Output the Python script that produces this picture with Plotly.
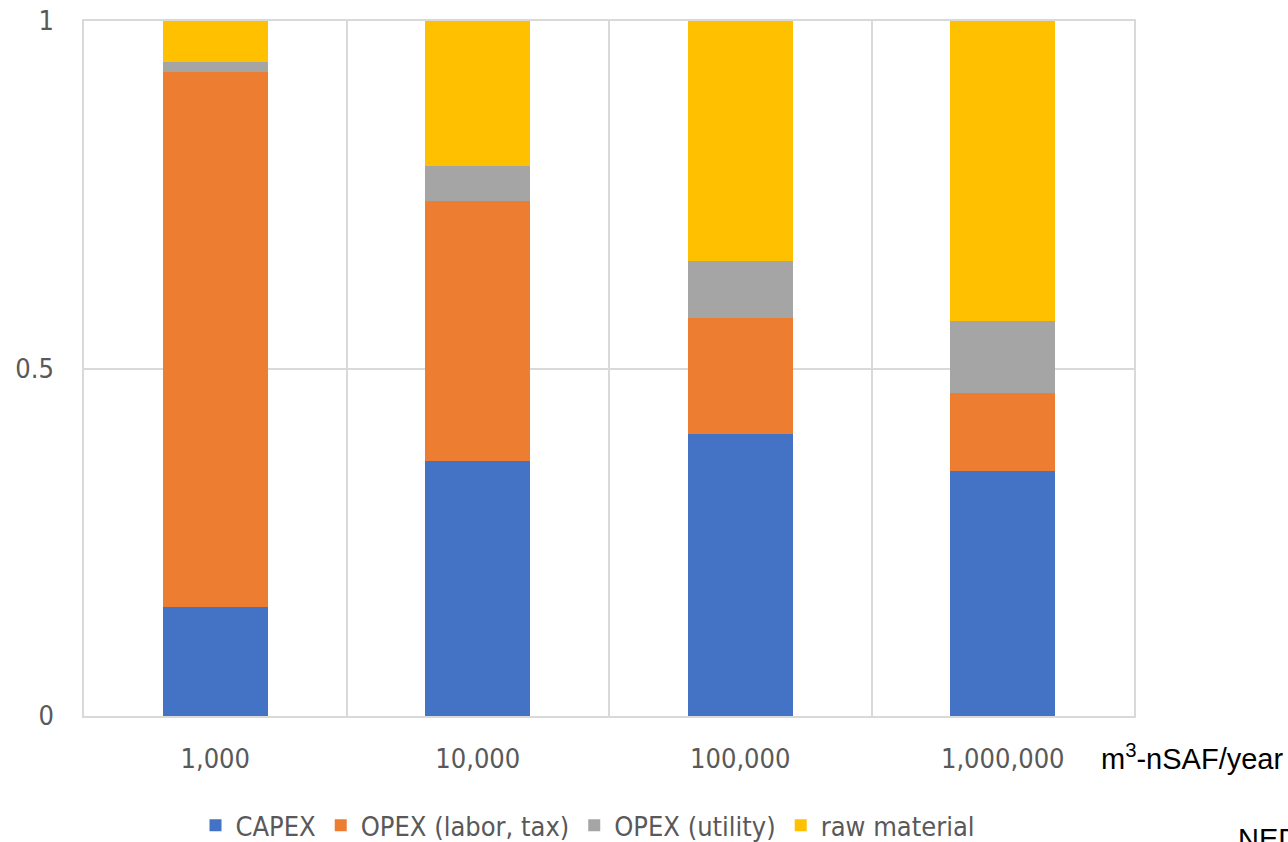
import plotly.graph_objects as go

categories = ["1,000", "10,000", "100,000", "1,000,000"]
capex = [0.157, 0.367, 0.406, 0.353]
opex_labor = [0.770, 0.374, 0.167, 0.112]
opex_utility = [0.014, 0.050, 0.082, 0.104]
raw_material = [0.059, 0.209, 0.345, 0.431]

series_names = ["CAPEX", "OPEX (labor, tax)", "OPEX (utility)", "raw material"]
series_values = [capex, opex_labor, opex_utility, raw_material]
colors = ["#4472C4", "#ED7D31", "#A5A5A5", "#FFC000"]

x_pos = list(range(len(categories)))

fig = go.Figure()
for name, vals, col in zip(series_names, series_values, colors):
    fig.add_trace(go.Bar(x=x_pos, y=vals, name=name, marker=dict(color=col, line=dict(width=0))))

font_family = "DejaVu Sans Condensed, Liberation Sans Narrow, sans-serif"
fig.update_layout(
    barmode="stack",
    bargap=0.6,
    width=1288, height=842,
    margin=dict(l=84, r=154, t=21, b=126, autoexpand=False),
    plot_bgcolor="white", paper_bgcolor="white",
    font=dict(family=font_family, size=27, color="#595959"),
    legend=dict(orientation="h", x=0.48, xanchor="center", y=-0.158, yanchor="middle",
                font=dict(family=font_family, size=27, color="#595959"),
                itemwidth=30, traceorder="normal"),
    showlegend=True,
)
fig.update_xaxes(
    range=[-0.5, 3.5], tickvals=x_pos, ticktext=categories,
    showgrid=False, showline=True, linecolor="#d9d9d9", linewidth=1.5, mirror=True,
    ticks="", ticklabelstandoff=18, zeroline=False,
    minor=dict(tick0=0.5, dtick=1, showgrid=True, gridcolor="#d9d9d9", gridwidth=1.5),
)
fig.update_yaxes(
    range=[0, 1], tickvals=[0, 0.5, 1], ticktext=["0", "0.5", "1"],
    showgrid=True, gridcolor="#d9d9d9", gridwidth=1.5,
    showline=True, linecolor="#d9d9d9", linewidth=1.5, mirror=True,
    ticks="", ticklabelstandoff=23, zeroline=False,
)
fig.add_annotation(text="m<sup>3</sup>-nSAF/year", xref="paper", yref="paper",
                   x=0.9667, y=-0.059, xanchor="left", yanchor="middle", showarrow=False,
                   font=dict(family="Liberation Sans, Arial", size=29, color="#000000"))
fig.add_annotation(text="NEDO", xref="paper", yref="paper",
                   x=1.097, y=-0.151, xanchor="left", yanchor="top", showarrow=False,
                   font=dict(family="Liberation Sans, Arial", size=29, color="#000000"))
fig.write_html("out.html")
